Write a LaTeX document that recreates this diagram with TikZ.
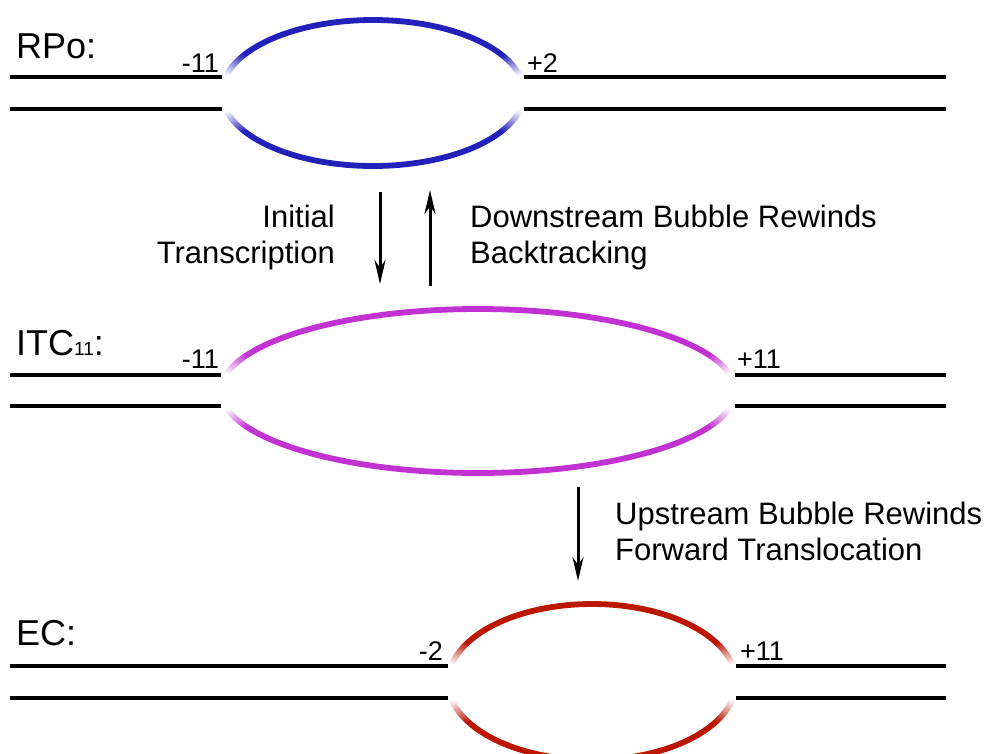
\documentclass[tikz,border=0pt]{standalone}
\usepackage{fontspec}
\setmainfont{Liberation Sans}
\usetikzlibrary{arrows.meta}
\usetikzlibrary{fadings}
\usetikzlibrary{positioning}

\definecolor{rpoblue}{RGB}{34,34,187}
\definecolor{itcpink}{RGB}{194,50,210}
\definecolor{ecred}{RGB}{187,22,0}

% white patch that covers the bubble where it meets the strands
\pgfdeclareradialshading{edgeshade}{\pgfpointorigin}{color(0bp)=(white); color(9bp)=(white); color(22bp)=(black); color(50bp)=(black)}
\pgfdeclarefading{edgefade}{\pgfuseshading{edgeshade}}

\begin{document}
\begin{tikzpicture}
  [x=1pt, y=-1pt,
   strand/.style={line width=3.2pt},
   bubble/.style={line width=5.8pt},
   gap/.style={white, path fading=edgefade},
   state/.style={anchor=base west, inner sep=0pt, font=\fontsize{36}{36}\selectfont},
   site/.style={inner sep=0pt, font=\fontsize{27}{27}\selectfont},
   stagetext/.style={inner sep=0pt, font=\fontsize{31}{36}\selectfont},
   move/.style={line width=3pt, -{Stealth[length=24pt, width=11pt]}}
  ]
  \clip (0,0) rectangle (1002,753);

  % RPo
  \draw [bubble, rpoblue] (373,93) ellipse [x radius=151, y radius=73];
  \fill [gap] (222,93) circle (50);
  \fill [gap] (524,93) circle (50);
  \draw [strand] (10,77) -- (222,77)  (524,77) -- (946,77);
  \draw [strand] (10,109) -- (222,109)  (524,109) -- (946,109);
  \node (rpo)     [state] at (16,58) {RPo:};
  \node (rpoup)   [site, anchor=base east] at (219,72) {-11};
  \node (rpodown) [site, anchor=base west] at (527,72) {+2};

  % ITC11
  \draw [bubble, itcpink] (478,391) ellipse [x radius=257, y radius=82];
  \fill [gap] (221,391) circle (50);
  \fill [gap] (735,391) circle (50);
  \draw [strand] (10,375) -- (221,375)  (735,375) -- (946,375);
  \draw [strand] (10,406) -- (221,406)  (735,406) -- (946,406);
  \node (itc)     [state] at (16,355) {ITC{\fontsize{19}{19}\selectfont 11}:};
  \node (itcup)   [site, anchor=base east] at (219,368) {-11};
  \node (itcdown) [site, anchor=base west] at (737,368) {+11};

  % EC
  \draw [bubble, ecred] (592,682) ellipse [x radius=144, y radius=78];
  \fill [gap] (448,682) circle (50);
  \fill [gap] (736,682) circle (50);
  \draw [strand] (10,666) -- (448,666)  (736,666) -- (946,666);
  \draw [strand] (10,698) -- (448,698)  (736,698) -- (946,698);
  \node (ec)     [state] at (16,645) {EC:};
  \node (ecup)   [site, anchor=base east] at (443,660) {-2};
  \node (ecdown) [site, anchor=base west] at (740,660) {+11};

  % steps between the complexes
  \coordinate (a1top) at (380,192);
  \coordinate (a1bot) at (380,284);
  \coordinate (a2bot) at (430,286);
  \coordinate (a2top) at (430,190);
  \coordinate (a3top) at (578,487);
  \coordinate (a3bot) at (578,581);
  \draw [move] (a1top) -- (a1bot);
  \draw [move] (a2bot) -- (a2top);
  \draw [move] (a3top) -- (a3bot);

  \node (initial) [stagetext, align=right, anchor=north east] at (335,205)
        {Initial\\Transcription};
  \node (back)    [stagetext, align=left, anchor=north west] at (470,205)
        {Downstream Bubble Rewinds\\Backtracking};
  \node (fwd)     [stagetext, align=left, anchor=north west] at (615,502)
        {Upstream Bubble Rewinds\\Forward Translocation};

\end{tikzpicture}
\end{document}
